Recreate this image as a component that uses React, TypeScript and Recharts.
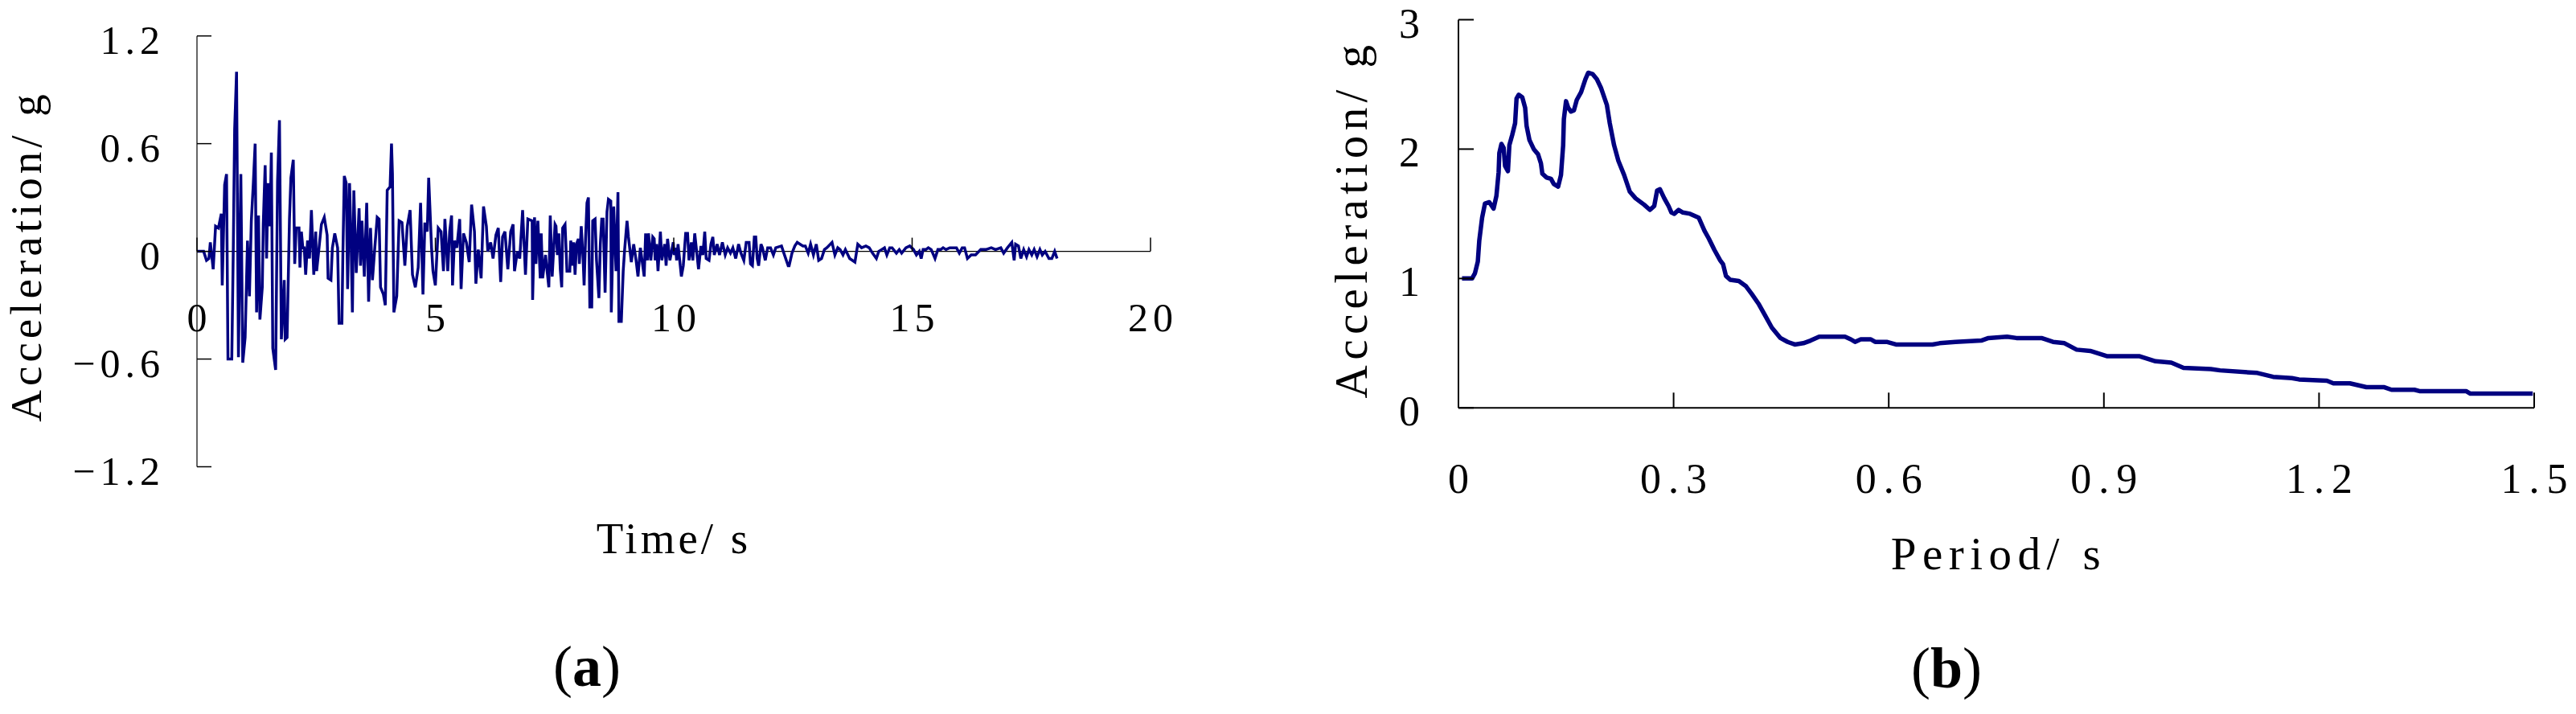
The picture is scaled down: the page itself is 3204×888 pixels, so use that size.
import React from 'react';
import { LineChart, Line, XAxis, YAxis, ReferenceLine } from 'recharts';

// ---------- (a) acceleration time history: [time s, acceleration g] ----------
const recordA: [number, number][] = [
  [0, 0], [0.14, 0], [0.2, -0.05], [0.25, -0.04], [0.28, 0.05], [0.34, -0.1], [0.39, 0.14], [0.45, 0.13],
  [0.51, 0.21], [0.53, -0.19], [0.58, 0.37], [0.62, 0.43], [0.65, -0.6], [0.73, -0.6], [0.76, -0.02],
  [0.79, 0.68], [0.83, 1.0], [0.87, -0.59], [0.92, 0.43], [0.96, -0.62], [1.01, -0.48], [1.06, 0.06],
  [1.1, -0.25], [1.14, 0.17], [1.18, 0.37], [1.22, 0.6], [1.25, -0.34], [1.29, 0.2], [1.32, -0.38],
  [1.37, -0.2], [1.39, 0.15], [1.43, 0.48], [1.46, -0.04], [1.49, 0.38], [1.53, 0.14], [1.56, 0.55],
  [1.59, -0.54], [1.65, -0.66], [1.69, 0.39], [1.73, 0.73], [1.77, -0.49], [1.83, -0.16], [1.85, -0.49],
  [1.89, -0.48], [1.94, 0.18], [1.97, 0.41], [2.02, 0.51], [2.05, -0.07], [2.08, 0.13], [2.14, 0.13],
  [2.16, -0.09], [2.19, 0.11], [2.22, 0.02], [2.25, 0.02], [2.28, -0.13], [2.32, 0.06], [2.36, -0.04],
  [2.4, 0.23], [2.45, -0.13], [2.49, 0.11], [2.51, -0.11], [2.56, 0.02], [2.61, 0.15], [2.67, 0.19],
  [2.73, 0.09], [2.75, -0.15], [2.81, -0.16], [2.84, 0.02], [2.89, 0.1], [2.95, 0.02], [2.98, -0.4],
  [3.04, -0.4], [3.06, -0.02], [3.09, 0.42], [3.13, 0.38], [3.16, -0.21], [3.2, 0.38], [3.23, 0.08],
  [3.26, -0.34], [3.29, 0.34], [3.34, -0.12], [3.4, 0.24], [3.43, -0.08], [3.46, 0.17], [3.51, -0.14],
  [3.56, 0.27], [3.6, -0.28], [3.64, 0.13], [3.68, -0.16], [3.73, 0.02], [3.78, 0.19], [3.82, 0.18],
  [3.85, -0.2], [3.91, -0.24], [3.95, -0.3], [3.99, 0.34], [4.05, 0.36], [4.08, 0.6], [4.1, 0.43],
  [4.13, -0.34], [4.19, -0.25], [4.24, 0.17], [4.3, 0.16], [4.36, -0.08], [4.41, 0.14], [4.47, 0.23],
  [4.52, -0.13], [4.58, -0.2], [4.64, -0.09], [4.69, 0.27], [4.74, -0.24], [4.78, 0.16], [4.83, 0.11],
  [4.86, 0.41], [4.92, 0.02], [4.95, -0.11], [5.0, -0.19], [5.06, 0.13], [5.12, 0.11], [5.17, -0.11],
  [5.2, 0.18], [5.26, -0.11], [5.3, 0.11], [5.34, 0.2], [5.36, -0.19], [5.4, 0.06], [5.45, 0.02],
  [5.51, 0.18], [5.54, -0.21], [5.59, 0.1], [5.65, 0.05], [5.71, -0.06], [5.76, 0.26], [5.82, 0.11],
  [5.85, -0.18], [5.9, 0.01], [5.96, -0.15], [6.01, 0.25], [6.07, 0.14], [6.1, 0.0], [6.16, 0.05],
  [6.21, -0.04], [6.27, 0.09], [6.32, 0.13], [6.37, -0.17], [6.41, 0.08], [6.46, 0.11], [6.52, -0.1],
  [6.58, 0.11], [6.63, 0.15], [6.66, -0.11], [6.72, 0.0], [6.77, -0.04], [6.83, 0.23], [6.89, -0.13],
  [6.94, 0.18], [7.03, 0.17], [7.04, -0.27], [7.08, 0.19], [7.11, -0.07], [7.15, 0.17], [7.2, -0.15],
  [7.22, 0.1], [7.25, -0.15], [7.31, -0.02], [7.34, -0.1], [7.38, -0.2], [7.41, 0.2], [7.45, -0.14],
  [7.51, 0.15], [7.53, 0.14], [7.56, -0.02], [7.59, 0.1], [7.62, -0.1], [7.65, -0.2], [7.67, 0.13],
  [7.72, 0.15], [7.76, -0.11], [7.82, -0.11], [7.84, 0.06], [7.87, -0.08], [7.9, 0.05], [7.93, -0.13],
  [7.96, 0.04], [8.0, 0.07], [8.02, -0.07], [8.06, 0.14], [8.1, -0.05], [8.12, -0.19], [8.15, 0.07],
  [8.18, 0.27], [8.21, 0.3], [8.24, -0.31], [8.28, -0.31], [8.3, 0.17], [8.35, 0.18], [8.38, -0.05],
  [8.43, -0.26], [8.46, 0.04], [8.49, 0.18], [8.52, 0.18], [8.56, -0.23], [8.6, 0.22], [8.63, 0.29],
  [8.68, 0.28], [8.69, -0.34], [8.74, 0.25], [8.79, -0.11], [8.83, 0.33], [8.85, -0.39], [8.9, -0.39],
  [8.94, -0.11], [8.97, 0.01], [9.02, 0.17], [9.05, 0.08], [9.11, -0.06], [9.16, 0.04], [9.21, -0.05],
  [9.25, -0.14], [9.3, 0.02], [9.33, -0.04], [9.38, -0.14], [9.41, 0.1], [9.45, -0.05], [9.47, 0.1],
  [9.52, -0.05], [9.56, 0.08], [9.59, 0.07], [9.61, -0.05], [9.64, 0.04], [9.67, -0.11], [9.72, 0.11],
  [9.75, -0.05], [9.81, 0.04], [9.84, -0.08], [9.87, 0.07], [9.92, -0.05], [9.99, 0.05], [10.01, -0.02],
  [10.04, 0.02], [10.06, -0.05], [10.09, 0.04], [10.16, -0.14], [10.2, -0.08], [10.25, 0.1], [10.29, 0.1],
  [10.32, -0.05], [10.37, 0.05], [10.4, -0.05], [10.44, 0.1], [10.52, -0.1], [10.57, 0.03], [10.61, -0.02],
  [10.65, 0.11], [10.68, -0.04], [10.74, -0.05], [10.78, 0.04], [10.82, 0.08], [10.85, -0.02], [10.91, 0.04],
  [10.96, -0.02], [11.02, 0.05], [11.08, -0.02], [11.13, 0.02], [11.19, -0.01], [11.24, 0.02], [11.3, -0.04],
  [11.36, 0.04], [11.41, -0.01], [11.47, -0.05], [11.52, 0.05], [11.58, 0.05], [11.61, -0.07], [11.65, -0.08],
  [11.69, 0.08], [11.72, 0.08], [11.75, -0.04], [11.78, -0.08], [11.83, 0.04], [11.86, 0.02], [11.92, -0.05],
  [11.97, 0.02], [12.03, 0.02], [12.09, -0.02], [12.14, 0.02], [12.26, 0.03], [12.31, -0.01], [12.4, -0.08],
  [12.42, -0.08], [12.48, -0.01], [12.54, 0.03], [12.59, 0.05], [12.65, 0.04], [12.71, 0.03], [12.76, 0.03],
  [12.82, -0.01], [12.87, 0.04], [12.93, -0.02], [12.99, 0.04], [13.04, -0.05], [13.1, -0.04], [13.16, 0.01],
  [13.21, 0.02], [13.32, 0.05], [13.38, -0.02], [13.44, 0.02], [13.49, 0.01], [13.55, -0.02], [13.6, 0.01],
  [13.69, -0.04], [13.8, -0.06], [13.86, 0.04], [13.94, 0.02], [14.03, 0.03], [14.1, 0.02], [14.17, -0.01],
  [14.25, -0.04], [14.3, 0.0], [14.36, 0.01], [14.42, 0.02], [14.47, -0.02], [14.53, 0.02], [14.58, 0.02],
  [14.67, -0.01], [14.73, 0.01], [14.78, -0.01], [14.87, 0.02], [14.95, 0.03], [15.03, 0.01], [15.09, -0.02],
  [15.15, 0.0], [15.19, -0.04], [15.23, 0.01], [15.29, 0.01], [15.34, 0.02], [15.4, 0.01], [15.48, -0.04],
  [15.54, 0.01], [15.6, 0.01], [15.65, 0.02], [15.71, 0.01], [15.79, 0.02], [15.85, 0.02], [15.93, 0.02],
  [15.99, -0.01], [16.05, 0.02], [16.1, 0.02], [16.16, -0.04], [16.24, -0.02], [16.33, -0.02], [16.44, 0.01],
  [16.55, 0.01], [16.66, 0.02], [16.75, 0.01], [16.86, 0.02], [16.92, -0.01], [17.0, 0.02], [17.09, 0.05],
  [17.14, -0.05], [17.17, 0.04], [17.23, 0.03], [17.28, -0.04], [17.34, 0.01], [17.4, -0.03], [17.45, 0.01],
  [17.51, -0.02], [17.56, 0.01], [17.62, -0.03], [17.68, 0.01], [17.73, -0.02], [17.79, 0.0], [17.87, -0.04],
  [17.93, -0.04], [17.99, 0.0], [18.04, -0.04],
];
const timeTicksA = [0, 5, 10, 15, 20];
const accTicksA = [-1.2, -0.6, 0, 0.6, 1.2];
const timeDomainA: [number, number] = [0, 20];
const accDomainA: [number, number] = [-1.2, 1.2];

// ---------- (b) response spectrum ----------
const periodB = [
  0.005, 0.019, 0.023, 0.027, 0.029, 0.033, 0.037, 0.043, 0.049, 0.053,
  0.056, 0.057, 0.06, 0.063, 0.065, 0.069, 0.071, 0.075, 0.079, 0.081,
  0.084, 0.089, 0.093, 0.095, 0.099, 0.105, 0.111, 0.115, 0.117, 0.123,
  0.129, 0.133, 0.139, 0.143, 0.146, 0.147, 0.15, 0.153, 0.157, 0.161,
  0.165, 0.171, 0.177, 0.181, 0.187, 0.193, 0.199, 0.207, 0.211, 0.217,
  0.223, 0.231, 0.239, 0.247, 0.259, 0.267, 0.273, 0.277, 0.281, 0.287,
  0.293, 0.297, 0.301, 0.307, 0.313, 0.323, 0.335, 0.343, 0.349, 0.357,
  0.365, 0.369, 0.373, 0.379, 0.391, 0.401, 0.409, 0.419, 0.427, 0.437,
  0.449, 0.459, 0.469, 0.481, 0.491, 0.503, 0.515, 0.539, 0.547, 0.553,
  0.561, 0.575, 0.581, 0.597, 0.61, 0.661, 0.671, 0.693, 0.729, 0.739,
  0.765, 0.778, 0.813, 0.829, 0.845, 0.862, 0.881, 0.904, 0.949, 0.972,
  0.994, 1.011, 1.049, 1.062, 1.114, 1.136, 1.162, 1.172, 1.211, 1.22,
  1.243, 1.266, 1.291, 1.301, 1.333, 1.34, 1.405, 1.411, 1.498,
];
const spectrumB = [
  1.0, 1.0, 1.04, 1.13, 1.29, 1.47, 1.58, 1.59, 1.54, 1.64,
  1.82, 1.97, 2.04, 2.01, 1.87, 1.83, 2.03, 2.11, 2.2, 2.39,
  2.42, 2.4, 2.32, 2.18, 2.07, 2.0, 1.96, 1.89, 1.81, 1.78,
  1.77, 1.73, 1.71, 1.8, 2.03, 2.23, 2.37, 2.32, 2.29, 2.3,
  2.38, 2.44, 2.54, 2.59, 2.58, 2.54, 2.47, 2.34, 2.2, 2.03,
  1.91, 1.8, 1.67, 1.62, 1.57, 1.53, 1.56, 1.68, 1.69, 1.62,
  1.56, 1.51, 1.5, 1.53, 1.51, 1.5, 1.47, 1.37, 1.31, 1.22,
  1.14, 1.11, 1.02, 0.99, 0.98, 0.94, 0.88, 0.8, 0.72, 0.62,
  0.54, 0.51, 0.49, 0.5, 0.52, 0.55, 0.55, 0.55, 0.53, 0.51,
  0.53, 0.53, 0.51, 0.51, 0.49, 0.49, 0.5, 0.51, 0.52, 0.54,
  0.55, 0.54, 0.54, 0.51, 0.5, 0.45, 0.44, 0.4, 0.4, 0.36,
  0.35, 0.31, 0.3, 0.29, 0.27, 0.24, 0.23, 0.22, 0.21, 0.19,
  0.19, 0.16, 0.16, 0.14, 0.14, 0.13, 0.13, 0.11, 0.11,
];
const periodTicksB = [0, 0.3, 0.6, 0.9, 1.2, 1.5];
const spectrumTicksB = [0, 1, 2, 3];
const periodDomainB: [number, number] = [0, 1.5];
const spectrumDomainB: [number, number] = [0, 3];

const dataA = recordA.map(([t, a]) => ({ t, a }));
const n = Math.min(periodB.length, spectrumB.length);
const dataB = periodB.slice(0, n).map((p, i) => ({ p, s: spectrumB[i] }));

const NAVY = '#000080';
const FONT = '"Liberation Serif", "Times New Roman", serif';
const fmt = (v: number) => (v < 0 ? '\u2212' + String(Math.abs(v)) : String(v));

// layout (axes take 1px each, subtracted from margins)
const AX = 1;
const A_W = 1560, A_H = 888;
const A_M = { top: 44.7, right: 129, bottom: 307.5 - AX, left: 245 - AX };
const A_PH = A_H - A_M.top - A_M.bottom - AX;
const B_W = 1604, B_H = 888;
const B_M = { top: 24.5, right: 52, bottom: 380.7 - AX, left: 214 - AX };

const TICK_FS_A = 50, TICK_LS_A = 6;
const TICK_FS_B = 52, TICK_LS_B = 9;

const YTickA = (props: any) => {
  const { x, y, payload } = props;
  return (
    <g>
      <line x1={x} y1={y} x2={x + 18} y2={y} stroke="#000" strokeWidth={1.5} />
      <text x={x - 46 + TICK_LS_A} y={y + 22} textAnchor="end" fontFamily={FONT} fontSize={TICK_FS_A}
        letterSpacing={TICK_LS_A} fill="#000">{fmt(payload.value)}</text>
    </g>
  );
};

const XTickA = (props: any) => {
  const { x, y, payload } = props;
  const zeroY = y - (A_PH * (0 - accDomainA[0])) / (accDomainA[1] - accDomainA[0]);
  return (
    <g>
      <line x1={x} y1={zeroY} x2={x} y2={zeroY - 17} stroke="#000" strokeWidth={1.5} />
      <text x={x + TICK_LS_A / 2} y={zeroY + 99} textAnchor="middle" fontFamily={FONT} fontSize={TICK_FS_A}
        letterSpacing={TICK_LS_A} fill="#000">{fmt(payload.value)}</text>
    </g>
  );
};

const YTickB = (props: any) => {
  const { x, y, payload } = props;
  return (
    <g>
      <line x1={x} y1={y} x2={x + 19} y2={y} stroke="#000" strokeWidth={2} />
      <text x={x - 48 + TICK_LS_B} y={y + 22} textAnchor="end" fontFamily={FONT} fontSize={TICK_FS_B}
        letterSpacing={TICK_LS_B} fill="#000">{fmt(payload.value)}</text>
    </g>
  );
};

const XTickB = (props: any) => {
  const { x, y, payload } = props;
  return (
    <g>
      <line x1={x} y1={y} x2={x} y2={y - 19} stroke="#000" strokeWidth={2} />
      <text x={x + TICK_LS_B / 2} y={y + 106} textAnchor="middle" fontFamily={FONT} fontSize={TICK_FS_B}
        letterSpacing={TICK_LS_B} fill="#000">{fmt(payload.value)}</text>
    </g>
  );
};

const Labels = () => (
  <svg width={3204} height={888} style={{ position: 'absolute', left: 0, top: 0, pointerEvents: 'none' }}>
    <g fontFamily={FONT} fill="#000">
      <text x={51} y={318.5} transform="rotate(-90 51 318.5)" textAnchor="middle" fontSize={55} letterSpacing={5}>
        Acceleration/ g
      </text>
      <text x={838} y={688} textAnchor="middle" fontSize={55} letterSpacing={4}>Time/ s</text>
      <text x={1699.5} y={272.5} transform="rotate(-90 1699.5 272.5)" textAnchor="middle" fontSize={57}
        letterSpacing={6.4}>Acceleration/ g</text>
      <text x={2486} y={708} textAnchor="middle" fontSize={57} letterSpacing={7.5}>Period/ s</text>
      <text x={730} y={853} textAnchor="middle" fontSize={72}>
        (<tspan fontWeight="bold">a</tspan>)
      </text>
      <text x={2421} y={855} textAnchor="middle" fontSize={72}>
        (<tspan fontWeight="bold">b</tspan>)
      </text>
    </g>
  </svg>
);

export default function App() {
  return (
    <div style={{ position: 'absolute', left: 0, top: 0, width: 3204, height: 888, background: '#fff' }}>
      <div style={{ position: 'absolute', left: 0, top: 0 }}>
        <LineChart width={A_W} height={A_H} data={dataA} margin={A_M}>
          <XAxis type="number" dataKey="t" domain={timeDomainA} ticks={timeTicksA} interval={0} height={AX}
            axisLine={false} tickLine={false} tickSize={0} tickMargin={0} tick={XTickA} allowDataOverflow />
          <YAxis type="number" domain={accDomainA} ticks={accTicksA} interval={0} width={AX}
            axisLine={{ stroke: '#000', strokeWidth: 1.2 }} tickLine={false} tickSize={0} tickMargin={0}
            tick={YTickA} allowDataOverflow />
          <ReferenceLine y={0} stroke="#000" strokeWidth={1.2} />
          <Line type="linear" dataKey="a" stroke={NAVY} strokeWidth={3.5} dot={false} isAnimationActive={false} />
        </LineChart>
      </div>
      <div style={{ position: 'absolute', left: 1600, top: 0 }}>
        <LineChart width={B_W} height={B_H} data={dataB} margin={B_M}>
          <XAxis type="number" dataKey="p" domain={periodDomainB} ticks={periodTicksB} interval={0} height={AX}
            axisLine={{ stroke: '#000', strokeWidth: 2 }} tickLine={false} tickSize={0} tickMargin={0}
            tick={XTickB} allowDataOverflow />
          <YAxis type="number" domain={spectrumDomainB} ticks={spectrumTicksB} interval={0} width={AX}
            axisLine={{ stroke: '#000', strokeWidth: 2 }} tickLine={false} tickSize={0} tickMargin={0}
            tick={YTickB} allowDataOverflow />
          <Line type="linear" dataKey="s" stroke={NAVY} strokeWidth={5.5} strokeLinejoin="round" dot={false}
            isAnimationActive={false} />
        </LineChart>
      </div>
      <Labels />
    </div>
  );
}
